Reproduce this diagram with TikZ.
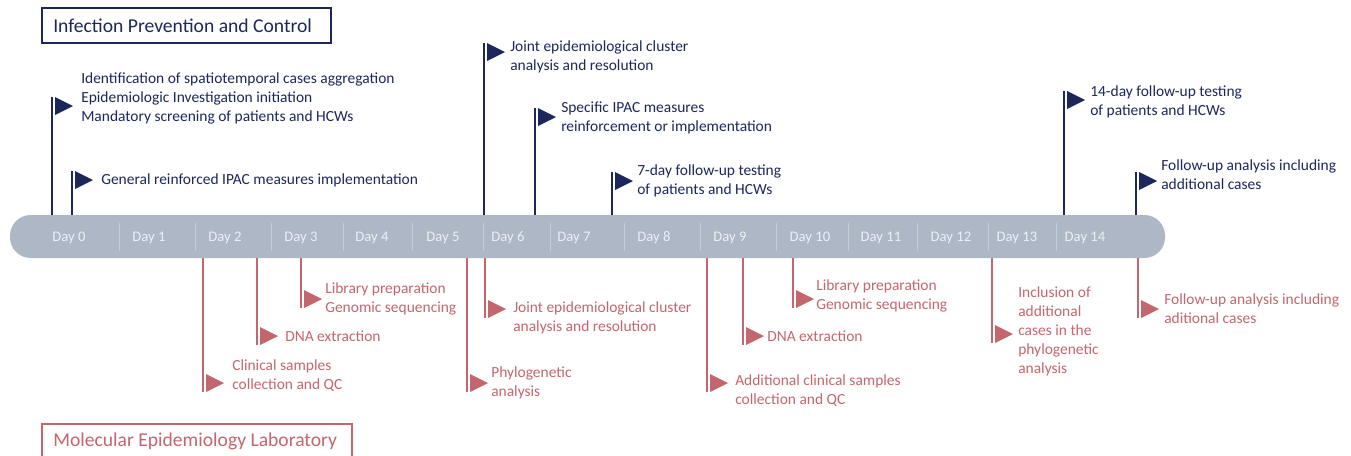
\documentclass[tikz,border=0pt]{standalone}
\usepackage{fontspec}
\setmainfont{Carlito}
\definecolor{navy}{RGB}{28,40,92}
\definecolor{rose}{RGB}{196,102,110}
\definecolor{barc}{RGB}{173,183,198}
\definecolor{daytxt}{RGB}{236,240,245}
\definecolor{sepc}{RGB}{196,204,216}
\tikzset{
  evtext/.style={anchor=west, inner sep=0pt, align=left, font=\fontsize{11.6}{14.25}\selectfont},
  toptext/.style={evtext, text=navy},
  bottext/.style={evtext, text=rose},
  daylbl/.style={inner sep=0pt, text=daytxt, font=\fontsize{11}{12}\selectfont},
  pole/.style={line width=1.5pt},
  boxtitle/.style={anchor=west, inner sep=0pt, font=\fontsize{14.7}{16}\selectfont}
}
\begin{document}
\begin{tikzpicture}[x=0.75pt,y=-0.75pt]
\useasboundingbox (0,0) rectangle (1351,455);
\clip (0,0) rectangle (1351,455);
\fill[white] (0,0) rectangle (1351,455);

% title boxes
\draw[navy, line width=0.9pt] (42,8) rectangle (331,43);
\node[boxtitle, text=navy] (ipac) at (53,26) {Infection Prevention and Control};
\draw[rose, line width=0.9pt] (42,424) rectangle (352,475);
\node[boxtitle, text=rose] (mel) at (53,441) {Molecular Epidemiology Laboratory};

% bar
\fill[barc, rounded corners=15.5pt] (10,215) rectangle (1165,258);
\foreach \x in {119,195,271,343,412,483,550,624,700,776,848,917,988,1056}
  \draw[sepc, line width=0.6pt] (\x,223) -- (\x,251);
\foreach \x/\d in {69/0,149/1,225/2,301/3,372/4,443/5,508/6,574/7,654/8,730/9,810/10,881/11,951/12,1017/13,1085/14}
  \node[daylbl] (day\d) at (\x,238) {Day \d};

% top flags (IPAC)
\foreach \n/\px/\py/\tx/\ty/\txt in {
  t1/52/97/81/98/{Identification of spatiotemporal cases aggregation\\Epidemiologic Investigation initiation\\Mandatory screening of patients and HCWs},
  t2/72/171/101/180/{General reinforced IPAC measures implementation},
  t3/484/43/510/57/{Joint epidemiological cluster\\analysis and resolution},
  t4/535/108/561/118/{Specific IPAC measures\\reinforcement or implementation},
  t5/612/172/637/181/{7-day follow-up testing\\of patients and HCWs},
  t6/1064/91/1090/101.5/{14-day follow-up testing\\of patients and HCWs},
  t7/1136/172/1161/174.5/{Follow-up analysis including\\additional cases}}{
  \coordinate (\n base) at (\px,215);
  \coordinate (\n top) at (\px,\py);
  \draw[navy, pole] (\n base) -- (\n top);
  \fill[navy] ([xshift=2.25pt]\n top) -- ++(0,-13.5pt) -- ++(13.5pt,6.75pt) -- cycle;
  \node[toptext] (\n txt) at (\tx,\ty) {\txt};
}

% bottom flags (MEL)
\foreach \n/\px/\py/\tx/\ty/\txt in {
  b1/203/392/232/375.5/{Clinical samples\\collection and QC},
  b2/257/345/285/336/{DNA extraction},
  b3/301/308/325/299/{Library preparation\\Genomic sequencing},
  b4/467/392/491/383/{Phylogenetic\\analysis},
  b5/485/318/513/317.5/{Joint epidemiological cluster\\analysis and resolution},
  b6/707/392/735/390.5/{Additional clinical samples\\collection and QC},
  b7/743/345/767/336/{DNA extraction},
  b8/793/308/816/295.5/{Library preparation\\Genomic sequencing},
  b9/992/343/1018/331.5/{Inclusion of\\additional\\cases in the\\phylogenetic\\analysis},
  b10/1138/318/1164/308.5/{Follow-up analysis including\\aditional cases}}{
  \coordinate (\n base) at (\px,258);
  \coordinate (\n bot) at (\px,\py);
  \draw[rose, pole] (\n base) -- (\n bot);
  \fill[rose] ([xshift=2.25pt]\n bot) -- ++(0,13.5pt) -- ++(13.5pt,-6.75pt) -- cycle;
  \node[bottext] (\n txt) at (\tx,\ty) {\txt};
}
\end{tikzpicture}
\end{document}
